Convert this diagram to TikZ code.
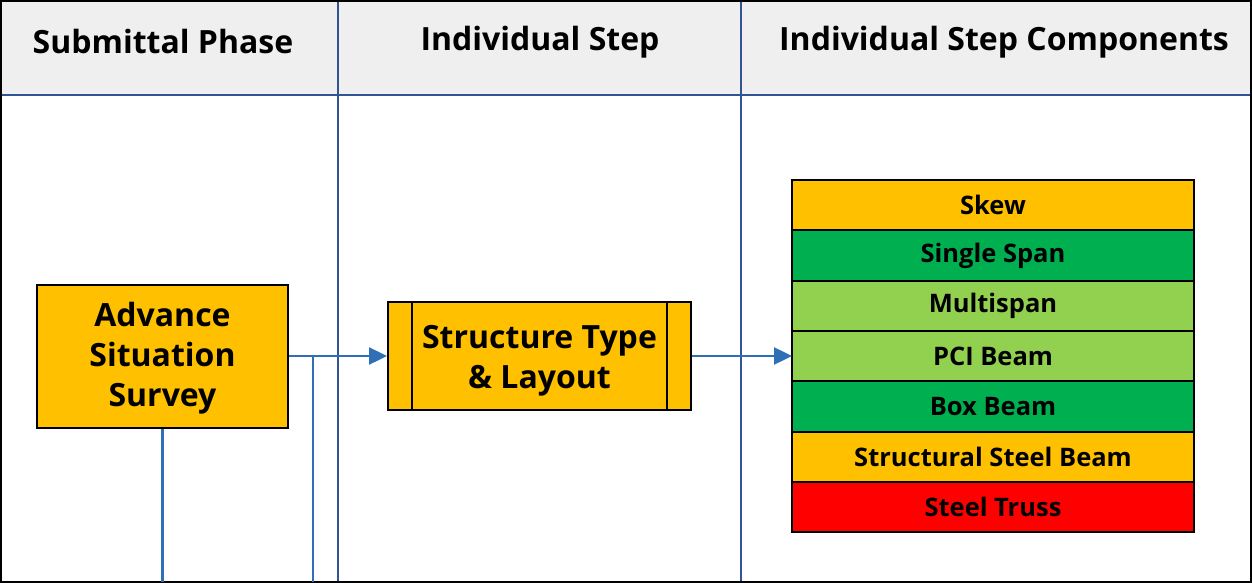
\documentclass[tikz,border=0pt]{standalone}
\usepackage{fontspec}
\setmainfont{Open Sans}
\usetikzlibrary{arrows.meta}
\definecolor{hdr}{HTML}{EFEFEF}
\definecolor{lane}{HTML}{2F5597}
\definecolor{conn}{HTML}{2E6FB7}
\definecolor{amber}{HTML}{FFC000}
\definecolor{dgreen}{HTML}{00B050}
\definecolor{lgreen}{HTML}{92D050}
\definecolor{red}{HTML}{FF0000}
\tikzset{
  hdrtext/.style={font=\fontsize{32}{38}\selectfont\bfseries, text=black},
  boxtext/.style={font=\fontsize{32}{40}\selectfont\bfseries, text=black},
  ylbox/.style={draw=black, line width=2pt, fill=amber, inner sep=0pt},
  comp/.style={draw=black, line width=2pt, outer sep=0pt, minimum width=402pt, minimum height=50.3pt, inner sep=0pt, font=\fontsize{25.5}{30}\selectfont\bfseries, text=black},
  lanel/.style={draw=lane, line width=1.5pt},
  connl/.style={draw=conn, line width=2.4pt},
  arr/.style={connl, -{Triangle[length=18pt,width=17pt]}}
}
\begin{document}
\begin{tikzpicture}[x=1pt,y=-1pt]
\useasboundingbox (0,0) rectangle (1252,583);
% header band
\fill[hdr] (2,2) rectangle (1250,95);
\draw[lanel] (2,95) -- (1250,95);
\draw[lanel] (338,2) -- (338,581);
\draw[lanel] (741,2) -- (741,581);
\draw[black, line width=1.6pt] (1,1) rectangle (1251,582);
% headers
\node[hdrtext] (h1) at (163,42) {Submittal Phase};
\node[hdrtext] (h2) at (540,42) {Individual Step};
\node[hdrtext] (h3) at (1004,42) {Individual Step Components};
% boxes
\node[ylbox, minimum width=251pt, minimum height=143pt, boxtext] (ass) at (162.5,356) {\raisebox{-2pt}[\height][\depth]{\begin{tabular}{@{}c@{}}Advance\\Situation\\Survey\end{tabular}}};
\node[ylbox, minimum width=303pt, minimum height=108pt, boxtext] (stl) at (539.5,356) {\raisebox{-4pt}[\height][\depth]{\begin{tabular}{@{}c@{}}Structure Type\\\& Layout\end{tabular}}};
\draw[black, line width=2pt] ([xshift=25pt]stl.north west) -- ([xshift=25pt]stl.south west);
\draw[black, line width=2pt] ([xshift=-25pt]stl.north east) -- ([xshift=-25pt]stl.south east);
% components
\node[comp, fill=amber] (c1) at (993,205.15) {Skew};
\node[comp, fill=dgreen, anchor=north] (c2) at (c1.south) {Single Span};
\node[comp, fill=lgreen, anchor=north] (c3) at (c2.south) {Multispan};
\node[comp, fill=lgreen, anchor=north] (c4) at (c3.south) {PCI Beam};
\node[comp, fill=dgreen, anchor=north] (c5) at (c4.south) {Box Beam};
\node[comp, fill=amber, anchor=north] (c6) at (c5.south) {Structural Steel Beam};
\node[comp, fill=red, anchor=north] (c7) at (c6.south) {Steel Truss};
% connectors
\coordinate (j) at (313,356);
\coordinate (jb) at (313,582);
\coordinate (ab) at (162.5,582);
\draw[arr] (ass.east) -- (stl.west);
\draw[connl] (j) -- (jb);
\draw[connl] (ass.south) -- (ab);
\draw[arr] (stl.east) -- (c4.west |- stl.east);
\end{tikzpicture}
\end{document}
